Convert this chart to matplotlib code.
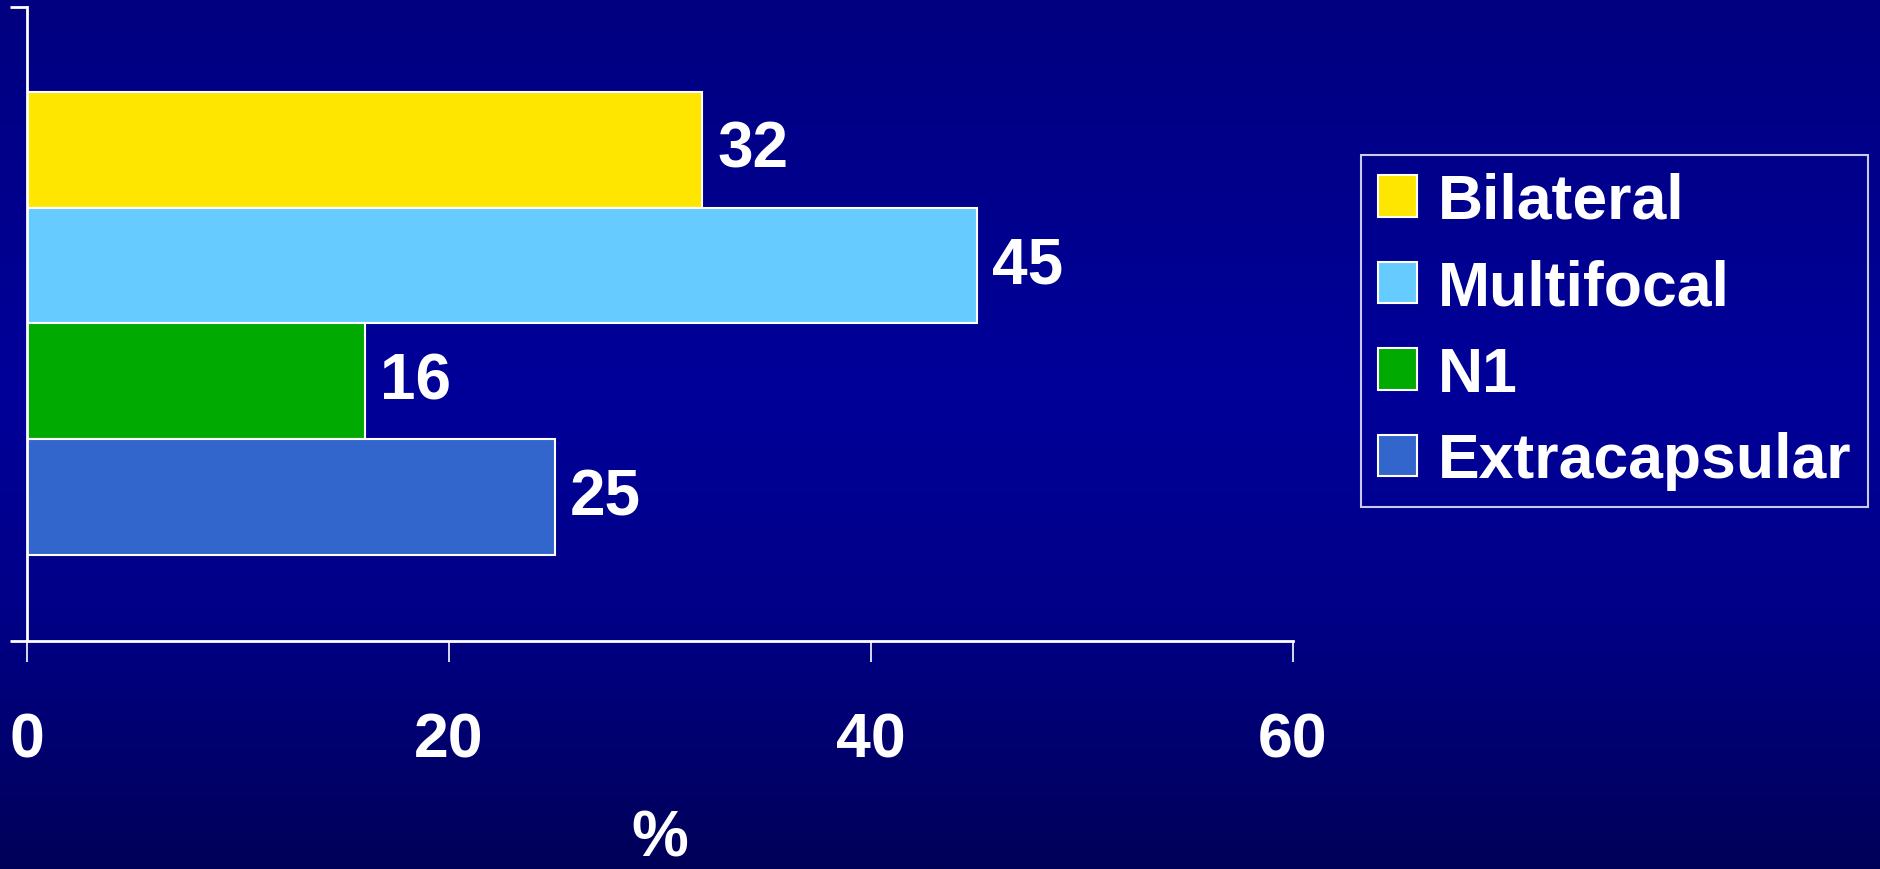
import numpy as np
import matplotlib.pyplot as plt
from matplotlib.patches import Patch

# 数据
categories = ['Bilateral', 'Multifocal', 'N1', 'Extracapsular']
values = [32, 45, 16, 25]
colors = ['#FFE600', '#66CCFF', '#00AA00', '#3366CC']
xticks = [0, 20, 40, 60]

plt.rcParams['font.family'] = ['Liberation Sans', 'DejaVu Sans']
plt.rcParams['font.weight'] = 'bold'

fig = plt.figure(figsize=(18.8, 8.7), dpi=100)

# 背景渐变
bg = fig.add_axes([0, 0, 1, 1], zorder=-1)
stops_y = [0.0, 0.45, 0.7, 1.0]
stops_b = [0x80, 0x99, 0x88, 0x58]
yy = np.linspace(0, 1, 400)
blue = np.interp(yy, stops_y, stops_b) / 255.0
grad = np.zeros((400, 1, 3))
grad[:, 0, 2] = blue
bg.imshow(grad, aspect='auto', extent=[0, 1, 0, 1], origin='upper')
bg.set_axis_off()

ax = fig.add_axes([27/1880, 228/870, (1293-27)/1880, (862-228)/870])
ax.patch.set_alpha(0)

ypos = np.arange(len(categories))[::-1]
bars = ax.barh(ypos, values, height=1.0, color=colors, edgecolor='white', linewidth=1.5)
ax.bar_label(bars, labels=[str(v) for v in values], padding=11, fontsize=46,
             fontweight='bold', color='white')

ax.set_xlim(0, 60)
ax.set_ylim(-1.24, 4.23)
ax.set_xticks(xticks)
ax.set_xticklabels([str(t) for t in xticks])
ax.set_yticks([-1.24, 4.23])
ax.set_yticklabels([])
ax.tick_params(axis='x', colors='white', length=15, width=1.2, pad=35, labelsize=45)
ax.tick_params(axis='y', colors='white', length=12, width=2, direction='out')
ax.spines['top'].set_visible(False)
ax.spines['right'].set_visible(False)
ax.spines['left'].set_color('white')
ax.spines['bottom'].set_color('white')
ax.spines['left'].set_linewidth(2)
ax.spines['bottom'].set_linewidth(2)
ax.set_xlabel('%', color='white', fontsize=46, fontweight='bold', labelpad=28)

handles = [Patch(facecolor=c, edgecolor='white', linewidth=1.5) for c in colors]
leg = fig.legend(handles, categories, loc='upper left',
                 bbox_to_anchor=(1361/1880, 1-156/870), bbox_transform=fig.transFigure,
                 prop={'size': 45, 'weight': 'bold'}, frameon=True, fancybox=False,
                 handlelength=0.62, handleheight=0.64, handletextpad=0.34,
                 labelspacing=0.44, borderpad=0.27, borderaxespad=0)
leg.get_frame().set_facecolor('none')
leg.get_frame().set_edgecolor('white')
leg.get_frame().set_linewidth(1.5)
for t in leg.get_texts():
    t.set_color('white')

fig.savefig('out.png', dpi=100)
